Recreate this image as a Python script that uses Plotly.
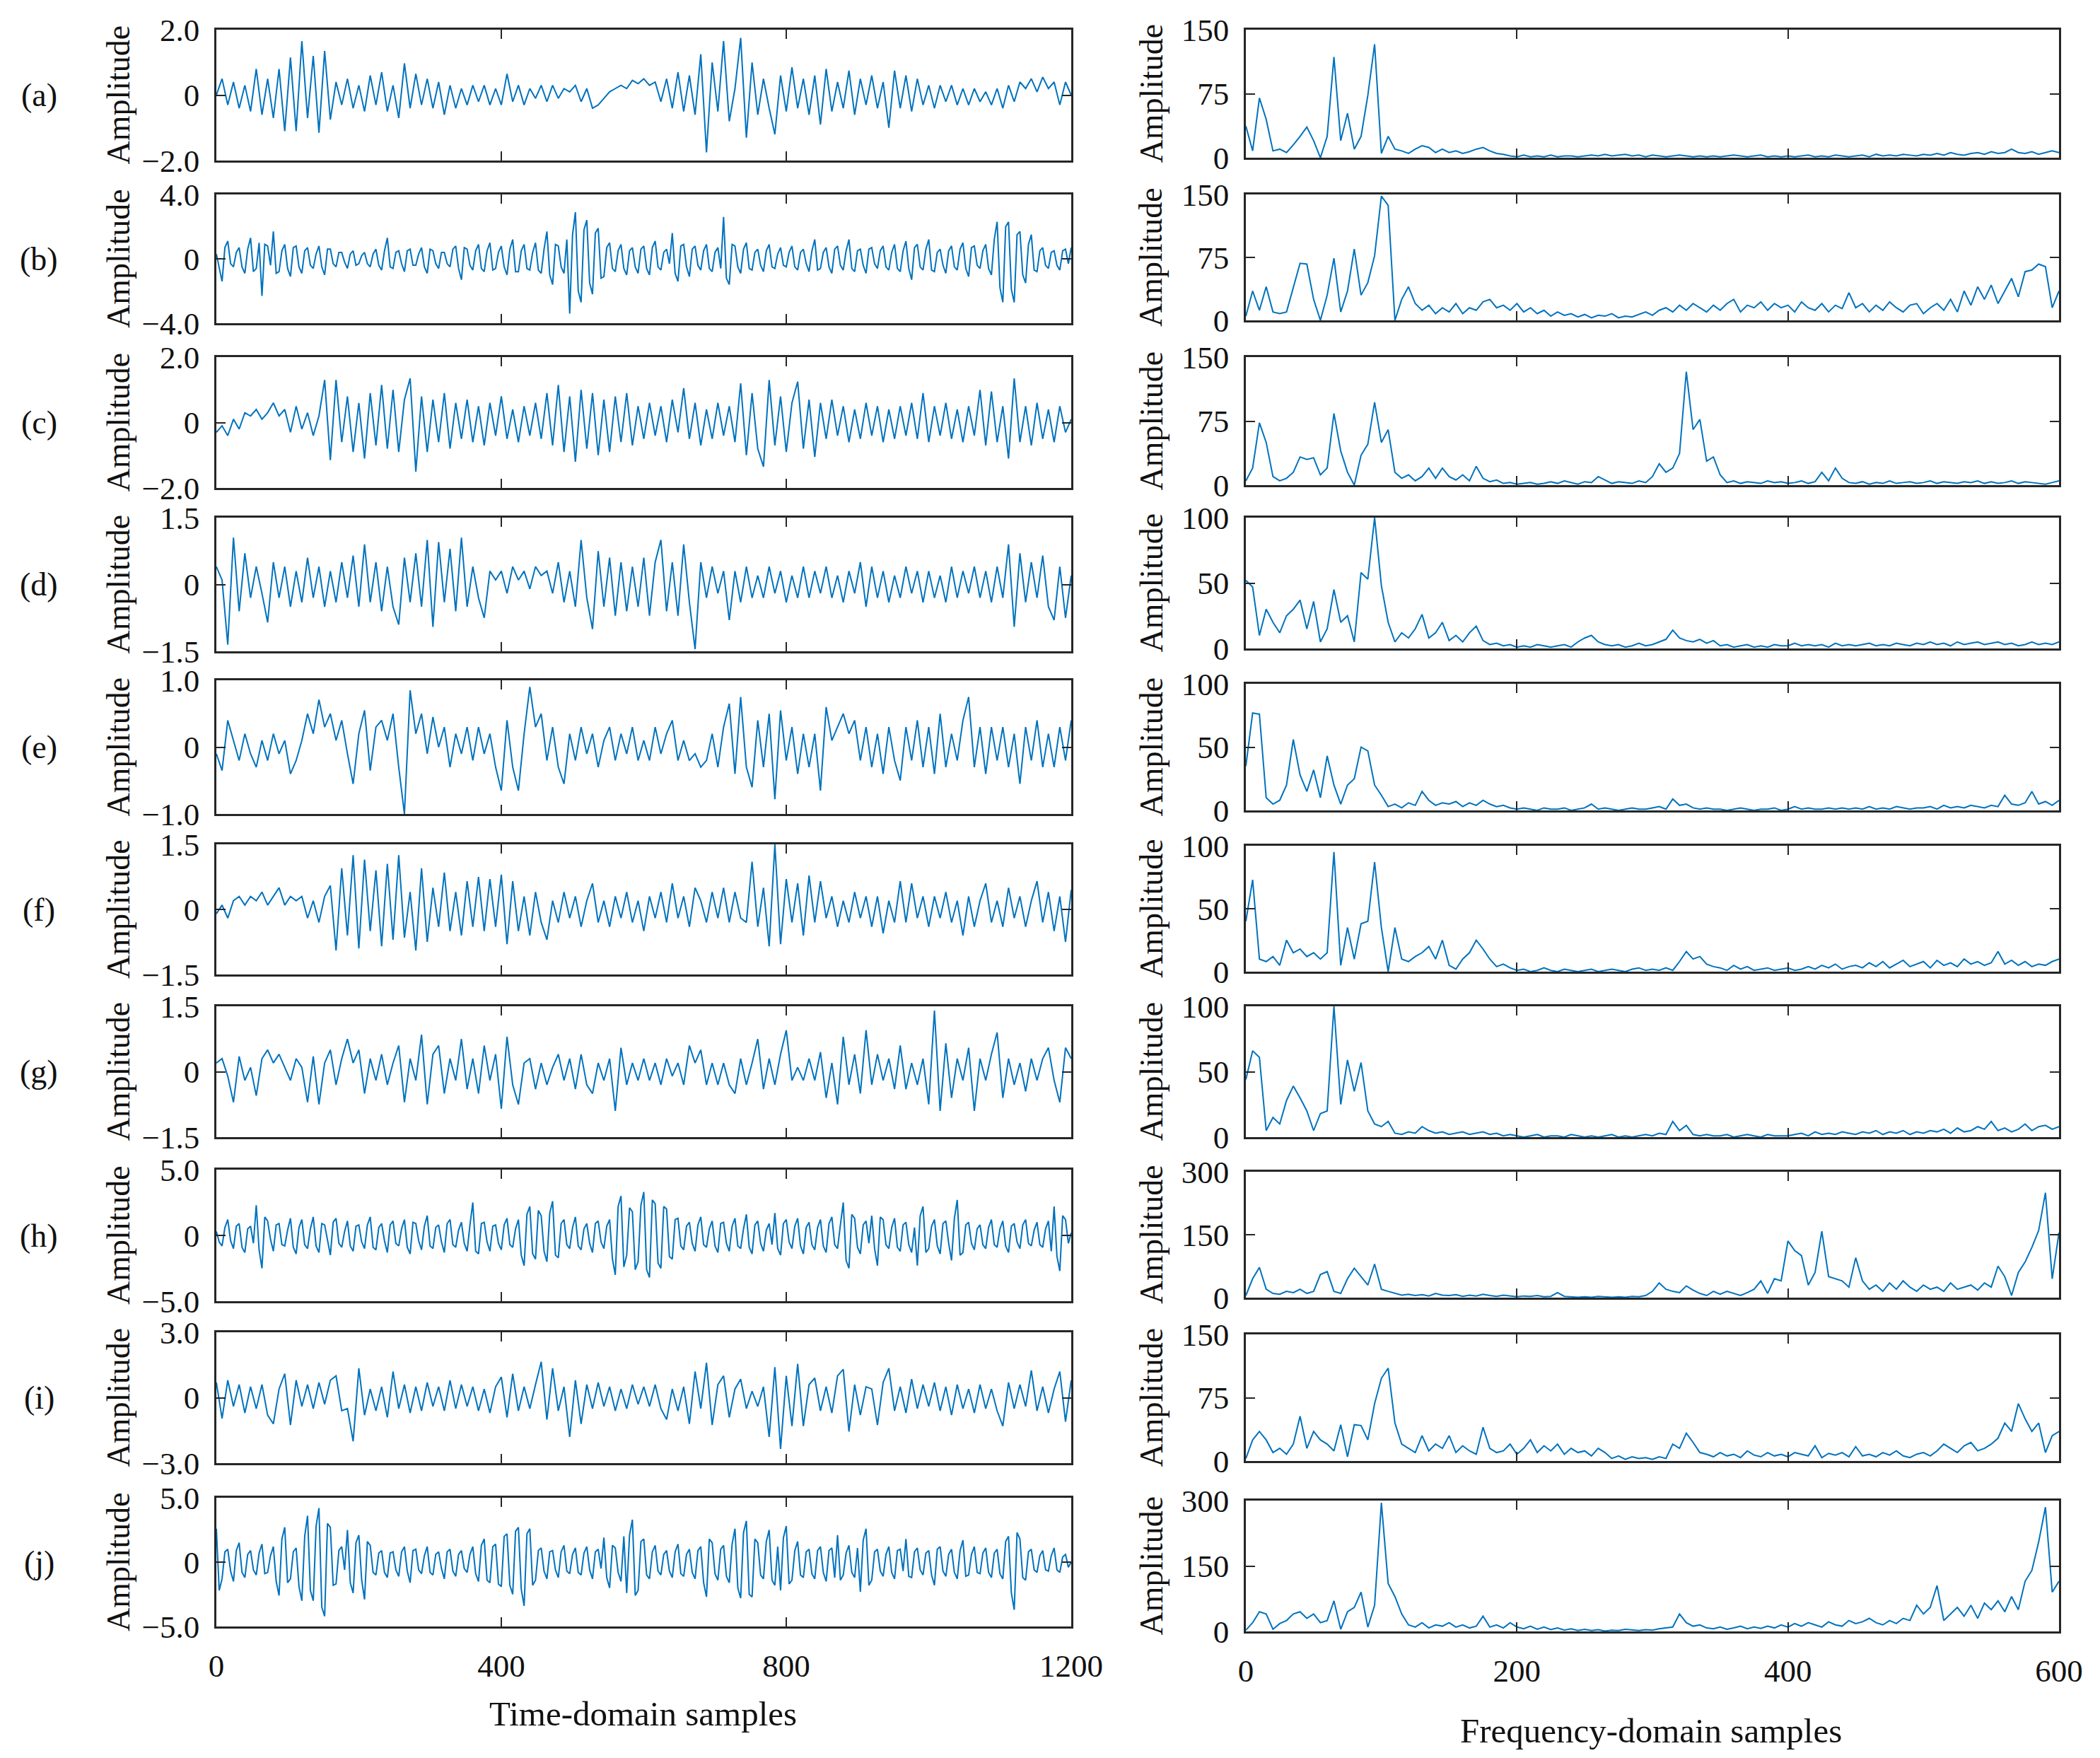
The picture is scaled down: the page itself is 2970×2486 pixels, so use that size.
import numpy as np
import plotly.graph_objects as go

# ---------------- data ----------------
ROW_LABELS = ["(a)", "(b)", "(c)", "(d)", "(e)", "(f)", "(g)", "(h)", "(i)", "(j)"]
TIME_STEPS = [8, 4, 8, 8, 8, 8, 8, 4, 8, 4]   # sample spacing of each time-domain array
FREQ_STEP = 5                                  # sample spacing of the frequency-domain arrays
TIME_LIMITS = [2.0, 4.0, 2.0, 1.5, 1.0, 1.5, 1.5, 5.0, 3.0, 5.0]
FREQ_LIMITS = [150, 150, 150, 100, 100, 100, 100, 300, 150, 300]
TIME_TICKS = [0, 400, 800, 1200]
FREQ_TICKS = [0, 200, 400, 600]
TIME_TITLE = "Time-domain samples"
FREQ_TITLE = "Frequency-domain samples"
Y_TITLE = "Amplitude"

A_T = [0, .5, -.3, .4, -.4, .3, -.5, .8, -.6, .5, -.7, .8, -1.1, 1.15, -1.1,
       1.65, -.7, 1.2, -1.15, 1.35, -.75, .4, -.3, .5, -.4, .3, -.5, .6, -.3, .7,
       -.5, .3, -.7, .97, -.4, .65, -.3, .5, -.4, .4, -.6, .3, -.4, .2, -.3,
       .3, -.2, .3, -.3, .2, -.3, .65, -.2, .3, -.3, .2, -.1, .3, -.2, .3,
       -.1, .2, .1, .3, -.2, .2, -.4, -.3, -.1, .1, .2, .3, .2, .45, .35,
       .5, .3, .4, -.2, .5, -.4, .7, -.5, .6, -.6, 1.25, -1.75, 1.0, -.5, 1.65,
       -.8, .2, 1.75, -1.3, 1.0, -.6, .5, -.4, -1.2, .6, -.5, .85, -.4, .5, -.6,
       .6, -.9, .8, -.5, .4, -.4, .75, -.6, .5, -.3, .6, -.4, .4, -1.0, .75,
       -.4, .6, -.5, .5, -.3, .3, -.4, .3, -.2, .3, -.3, .2, -.3, .2, -.2,
       .1, -.3, .2, -.4, .3, -.2, .4, .2, .5, .1, .55, .2, .4, -.3, .4,
       0]
B_T = [.3, -.6, -1.4, .7, 1.1, -.3, -.5, .4, .7, -.5, -.9, .6, 1.3, -.8, -.6, 1.0, -2.3, .9, .8, -.4, 1.7, -.9, -.8, .5, .9, -.6, -1.1, .7, .8, -.5,
       -.9, .5, .7, -.4, -.6, .3, .8, -.5, -1.0, .6, .6, -.3, -.5, .4, .4, -.2, -.6, .3, .5, -.4, -.3, .2, .4, -.3, -.5, .3, .6, -.4, -.7, .5,
       1.3, -.5, -.6, .4, .5, -.3, -.8, .5, .6, -.4, -.4, .3, .7, -.5, -.9, .6, .5, -.3, -.6, .4, .4, -.3, -.5, .6, .8, -.6, -1.3, .7, .6, -.4,
       -.7, .5, .9, -.6, -.8, .5, 1.0, -.7, -.6, .4, .8, -.5, -1.0, .6, 1.2, -.8, -.8, .5, .9, -.6, -.7, .4, 1.0, -.7, -.9, .6, 1.7, -1.0, -1.6, .9,
       .8, -.5, -.9, 1.2, -3.4, 1.5, 2.9, -2.0, -2.7, 1.8, 2.4, -1.5, -2.2, 1.6, 1.9, -1.2, -1.1, .7, 1.0, -.6, -.8, .5, .9, -.6, -1.0, .5, .7, -.5, -.9, .6,
       .8, -.6, -1.0, .7, 1.1, -.5, -.7, .4, .6, -.3, 1.6, -.9, -1.4, .8, .9, -.5, -1.1, .6, .8, -.4, -.7, .5, .9, -.6, -.8, .4, .7, -.6, 2.6, -1.2,
       -1.6, .9, .8, -.5, -.9, .6, 1.0, -.6, -.7, .4, .6, -.4, -.8, .5, .9, -.5, -.6, .3, .7, -.4, -.5, .4, .8, -.5, -.7, .4, .6, -.3, -.8, .5,
       1.2, -.7, -.6, .4, .7, -.5, -.9, .6, .8, -.4, -.7, .5, 1.2, -.6, -.8, .5, .6, -.4, -.9, .6, .7, -.3, -.6, .5, .8, -.5, -.7, .4, .9, -.6,
       -.8, .5, 1.1, -.6, -1.3, .7, .9, -.5, -.7, .6, 1.2, -.7, -.8, .4, .6, -.4, -.9, .5, .8, -.5, -.7, .6, 1.0, -.6, -1.1, .7, .8, -.4, -.6, .5,
       .9, -.6, -1.0, 1.2, 2.3, -1.8, -2.7, 2.0, 2.3, -1.9, -2.7, 1.5, 1.7, -1.0, -1.5, .9, 1.5, -.7, -.8, .5, .7, -.4, -.6, .4, .5, -.4, -.7, .5, .6, -.3,
       .7]
C_T = [-.3, -.1, -.4, .1, -.2, .3, .2, .4, .1, .3, .6, .2, .4, -.3, .5,
       -.2, .3, -.4, .2, 1.3, -1.15, 1.3, -.6, .8, -.9, .6, -1.1, .9, -.7, 1.15,
       -.8, 1.0, -.9, .7, 1.35, -1.5, .8, -.9, .7, -.6, .9, -.8, .6, -.5, .7,
       -.6, .5, -.7, .6, -.4, .8, -.5, .4, -.6, .5, -.4, .6, -.5, .9, -.7,
       1.15, -.9, .8, -1.2, 1.0, -.8, .9, -1.0, .7, -.9, .8, -.6, .9, -.7, .5,
       -.5, .6, -.4, .5, -.6, .7, -.3, 1.05, -.5, .6, -.7, .4, -.5, .6, -.4,
       .5, -.6, 1.2, -1.0, .9, -.8, -1.35, 1.3, -.7, .8, -.9, .6, 1.25, -.8, .7,
       -1.05, .6, -.5, .7, -.4, .5, -.6, .4, -.5, .6, -.4, .5, -.6, .4, -.5,
       .5, -.4, .6, -.5, .9, -.6, .5, -.4, .6, -.5, .4, -.6, .5, -.4, 1.0,
       -.7, .95, -.6, .5, -1.1, 1.35, -.6, .5, -.7, .6, -.5, .4, -.6, .5, -.3,
       .1]
D_T = [.4, .1, -1.35, 1.05, -.6, .7, -.3, .4, -.2, -.85, .5, -.3, .4, -.5, .3,
       -.4, .6, -.3, .4, -.5, .3, -.4, .5, -.3, .65, -.5, .9, -.4, .5, -.6,
       .4, -.5, -.9, .6, -.4, .7, -.5, 1.0, -.95, .95, -.4, .8, -.6, 1.05, -.5,
       .4, -.3, -.75, .3, .1, .3, -.2, .4, .1, .3, -.1, .4, .2, .3, -.2,
       .5, -.4, .3, -.5, 1.0, -.3, -1.0, .75, -.5, .6, -.7, .5, -.6, .4, -.5,
       .6, -.7, .5, 1.0, -.6, .5, -.7, .9, -.4, -1.45, .5, -.3, .4, -.2, .3,
       -.8, .3, -.4, .4, -.3, .2, -.3, .4, -.2, .3, -.4, .2, -.3, .4, -.3,
       .3, -.2, .4, -.3, .2, -.4, .3, -.2, .5, -.5, .4, -.3, .3, -.4, .2,
       -.3, .4, -.2, .3, -.4, .3, -.3, .2, -.4, .4, -.3, .3, -.2, .4, -.3,
       .3, -.4, .4, -.3, .9, -.95, .7, -.4, .5, -.3, .65, -.5, -.8, .4, -.75,
       .2]
E_T = [-.1, -.35, .4, .1, -.2, .2, -.1, -.3, .1, -.2, .2, -.1, .1, -.4, -.2,
       .1, .5, .2, .71, .3, .5, .1, .4, -.1, -.55, .2, .55, -.35, .3, .4,
       .1, .5, -.3, -1.0, .85, .2, .5, -.1, .45, 0, .3, -.3, .2, -.1, .3,
       -.2, .3, -.1, .2, -.3, -.65, .4, -.3, -.65, .2, .9, .3, .5, -.2, .3,
       -.3, -.55, .2, -.2, .3, -.1, .2, -.3, .1, .3, -.2, .2, -.1, .3, -.2,
       .1, -.2, .3, -.1, .2, .4, -.2, .1, -.2, -.1, -.3, -.2, .2, -.3, .3,
       .65, -.4, .75, -.3, -.6, .4, -.3, .5, -.78, .55, -.2, .3, -.4, .2, -.3,
       .2, -.65, .6, .1, .3, .5, .2, .4, -.2, .3, -.3, .2, -.4, .3, -.2,
       -.5, .3, -.2, .4, -.3, .3, -.4, .5, -.3, .2, -.2, .4, .75, -.3, .3,
       -.4, .3, -.2, .3, -.3, .2, -.55, .3, -.2, .4, -.3, .2, -.3, .3, -.2,
       .4]
F_T = [-.1, .1, -.2, .2, .3, .1, .3, .2, .4, .1, .3, .5, .1, .3, .2,
       .3, -.2, .2, -.3, .3, .55, -.95, .95, -.6, 1.25, -.9, 1.15, -.5, .9, -.85,
       1.05, -.7, 1.25, -.65, .4, -.95, .95, -.75, .5, -.4, .85, -.5, .4, -.6, .65,
       -.4, .75, -.5, .7, -.4, .8, -.8, .65, -.5, .3, -.6, .4, -.3, -.7, .2,
       -.3, .4, -.2, .3, -.4, .2, .6, -.3, .2, -.4, .3, -.2, .4, -.3, .2,
       -.5, .3, -.2, .4, -.3, .6, -.2, .3, -.4, .5, .2, -.3, .4, -.2, .5,
       -.3, .4, -.2, -.3, 1.1, -.4, .5, -.85, 1.5, -.8, .7, -.3, .6, -.6, .78,
       -.3, .65, -.2, .3, -.4, .2, -.3, .4, -.2, .3, -.4, .3, -.55, .2, -.3,
       .65, -.3, .6, -.2, .3, -.4, .3, -.2, .4, -.3, .2, -.6, .3, -.4, .2,
       .6, -.3, .2, -.4, .5, -.2, .3, -.4, .2, .65, -.3, .4, -.5, .3, -.75,
       .45]
G_T = [.2, .3, -.1, -.7, .35, -.2, .1, -.55, .3, .5, .2, .4, .1, -.2, .3,
       .1, -.7, .35, -.75, .2, .5, -.3, .3, .75, .2, .5, -.5, .3, -.2, .4,
       -.3, .2, .6, -.7, .3, -.2, .85, -.75, .4, .6, -.5, .3, -.2, .75, -.4,
       .3, -.5, .6, -.2, .4, -.85, .8, -.3, -.75, .2, .3, -.4, .2, -.3, .1,
       .4, -.2, .3, -.4, .4, -.3, -.5, .2, -.2, .3, -.9, .55, -.3, .2, -.2,
       .3, -.2, .2, -.3, .3, -.1, .2, -.3, .6, .2, .5, -.3, .2, -.3, .2,
       -.3, -.5, .3, -.3, .2, .75, -.4, .3, -.3, .4, .95, -.2, .1, -.2, .3,
       -.2, .45, -.6, .2, -.75, .8, -.3, .4, -.5, .95, -.3, .4, -.2, .3, -.4,
       .6, -.4, .2, -.3, .3, -.75, 1.4, -.9, .65, -.6, .3, -.2, .55, -.9, .3,
       -.2, .4, .9, -.6, .3, -.3, .2, -.45, .3, -.2, .3, .55, -.2, -.7, .55,
       .3]
H_T = [.3, -.5, -.8, .6, 1.2, -.4, -1.0, .7, .9, -.9, -1.3, .5, .7, -.6, 2.3, -1.1, -2.5, 1.4, 1.1, -.3, -1.2, .8, .9, -.7, -.8, .4, 1.3, -.9, -1.4, .6,
       1.2, -.7, -1.0, .5, 1.4, -.8, -1.3, .9, .8, -.4, -1.5, 1.0, 1.3, -.6, -.9, .3, 1.1, -.8, -1.2, .7, .8, -.5, -1.0, .8, 1.4, -.9, -1.1, .6, .9, -.4,
       -1.3, .8, 1.1, -.6, -.8, .5, 1.2, -.9, -1.4, 1.0, .9, -.4, -1.1, .7, 1.5, -.8, -1.0, .6, .8, -.5, -1.3, .9, 1.2, -.7, -.9, .4, 1.0, -.6, -1.2, .8,
       2.5, -1.2, -1.4, .9, 1.0, -.5, -1.2, .7, .8, -.6, -1.1, .8, 1.3, -.7, -.9, .5, 1.2, -1.5, -2.3, 1.6, 2.2, -1.4, -1.8, 1.9, 1.5, -1.2, -2.0, 1.7, 2.6, -1.5,
       -1.7, .9, 1.2, -.7, -1.0, .6, 1.4, -.8, -1.1, .5, .9, -.6, -1.3, .9, 1.1, -.5, -1.0, .7, 1.2, -1.8, -3.0, 2.2, 3.0, -2.4, -1.5, 2.1, 1.8, -2.6, -2.0, 2.3,
       3.3, -2.6, -3.2, 2.7, 2.4, -2.1, -2.5, 2.2, 2.0, -1.6, -1.8, 1.2, 1.3, -.8, -1.1, .7, 1.0, -.6, -1.2, .8, 1.4, -.7, -.9, .5, 1.1, -.8, -1.3, .9, 1.0, -.6,
       -1.2, .7, 1.3, -.8, -1.0, .5, 1.6, -.9, -1.4, .8, 1.1, -.6, -1.2, .4, .9, -.7, 1.7, -1.0, -1.5, .9, 1.2, -.5, -1.0, .7, 1.3, -.8, -1.4, .6, 1.0, -.7,
       -1.1, .6, 1.2, -.8, -1.3, .9, 1.4, -.7, -1.0, .8, 2.5, -1.9, -2.5, 1.6, 1.3, -.9, -1.4, .8, 1.1, -.6, 1.5, -1.0, -2.3, 1.4, 1.2, -.7, -1.0, .6, 1.3, -.9,
       -1.2, .8, 1.0, -.7, -1.3, .6, -2.3, 1.5, 2.2, -1.3, -1.0, .7, 1.2, -.8, -1.4, .9, 1.1, -.6, -1.9, 1.3, 2.7, -1.5, -1.3, .8, 1.0, -.6, -1.1, .5, .8, -.7,
       -1.0, .6, 1.2, -.7, -.9, .5, 1.1, -.8, -1.3, .7, .9, -.5, -1.0, .8, 1.2, -.6, -.8, .4, 1.0, -.7, -.9, .5, 1.1, -1.2, 2.2, -1.6, -2.7, 1.5, 1.2, -.6,
       .2]
I_T = [.7, -.95, .8, -.4, .6, -.7, .5, -.5, .6, -.8, -1.2, .4, 1.1, -1.25, .8,
       -.4, .6, -.5, .7, -.3, .8, 1.0, -.6, -.5, -2.0, 1.35, -.8, .4, -.6, .5,
       -.9, 1.2, -.5, .6, -.7, .5, -.6, .7, -.4, .5, -.6, .8, -.5, .6, -.4,
       .5, -.6, .4, -.7, .5, .95, -.9, 1.1, -.6, .5, -.5, .6, 1.65, -1.0, 1.35,
       -.6, .5, -1.8, .8, -1.2, .6, -.5, .7, -.4, .5, -.6, .4, -.5, .6, -.3,
       .5, -.4, .6, -.5, -1.0, .4, -.6, .5, -1.2, 1.2, -.5, 1.6, -1.25, .6, 1.0,
       -.9, .4, .85, -.5, .3, -.4, .5, -1.8, 1.4, -2.35, 1.0, -1.3, 1.55, -1.3, .6,
       .9, -.6, .5, -.7, 1.0, 1.3, -1.55, .6, -.8, .5, .4, -1.25, .7, 1.35, -.6,
       .5, -.7, .85, -.5, .6, -.4, .7, -.6, .5, -.8, .6, -.5, .4, -.7, .6,
       -.5, .4, -.6, -1.3, .7, -.5, .6, -.4, 1.25, -.6, .5, -.7, .4, 1.2, -1.1,
       .8]
J_T = [2.6, -2.2, -1.3, .8, 1.0, -.7, -1.5, .9, 1.5, -.8, -1.2, .6, .9, -.6, -1.0, .7, 1.4, -.9, -.8, .5, 1.2, -1.5, -2.6, 1.8, 2.7, -1.6, -1.3, .8, 1.1, -1.9,
       -3.0, 2.0, 3.6, -2.2, -3.0, 2.8, 4.2, -3.5, -4.2, 3.0, 2.7, -1.8, -1.7, .9, 1.2, -.6, 2.5, -1.6, -2.4, 1.5, 2.1, -1.4, -2.9, 1.6, 1.3, -.8, -1.0, .7, .9, -.8,
       -1.2, .7, .8, -.6, -1.1, .8, 1.2, -.7, -1.6, .9, 1.0, -.6, -.9, .5, 1.2, -.8, -1.0, .6, .8, -.5, -1.3, .8, 1.0, -.7, -1.1, .6, .9, -.5, -.8, .6,
       1.2, -.9, -1.5, 1.3, 1.8, -1.4, -1.6, 1.2, 1.4, -1.7, -1.9, 2.0, 2.2, -1.8, -2.5, 2.4, 2.7, -2.1, -3.4, 2.2, 2.6, -1.8, -1.4, .9, 1.1, -.7, -1.3, .8, .9, -.6,
       -1.2, .8, 1.3, -.7, -.9, .6, 1.1, -.8, -1.0, .7, 1.2, -.6, -1.3, .8, 1.0, -.5, 1.9, -1.2, -2.0, 1.3, 1.1, -.8, -1.5, 2.0, -2.4, 2.1, 3.3, -2.6, -2.2, 1.6,
       1.8, -1.0, -1.3, .8, 1.3, -.7, -1.0, .6, .9, -.7, -1.2, .8, 1.4, -.9, -1.1, .6, 1.0, -.8, -1.3, .9, 1.2, -1.6, -2.7, 1.8, 1.5, -.9, -1.4, 1.0, 1.3, -1.1,
       -1.6, 1.4, 2.6, -2.0, -2.8, 2.3, 3.2, -2.5, -2.7, 1.8, 1.5, -1.0, -1.3, 1.6, 2.5, -1.4, -1.8, 1.2, -2.2, 1.9, 2.8, -1.7, -1.4, .9, 1.6, -1.0, -1.2, .8, 1.0, -.9,
       -1.3, .9, 1.2, -.8, -1.5, .9, 1.1, -1.2, 2.1, -1.4, -1.0, .7, 1.3, -.8, -1.2, 1.1, -2.3, 1.7, 2.6, -1.8, -1.4, .8, 1.0, -.7, -1.1, .6, 1.2, -.8, -1.3, .9,
       1.0, -.7, 1.8, -1.1, -1.2, .8, 1.1, -.6, -1.0, .7, .9, -1.0, -1.8, 1.0, 1.2, -.7, -1.1, .6, 1.0, -.8, -1.3, .9, 1.7, -1.1, -1.0, .6, 1.2, -.8, -.9, .7,
       1.1, -.8, -1.2, .7, 1.0, -.9, -1.3, 1.6, 2.0, -2.4, -3.7, 2.3, 1.8, -1.2, -1.4, .8, 1.0, -.6, -.8, .5, .9, -.6, -.7, .5, 1.1, -.6, -.8, .4, .6, -.4,
       0]

A_F = [37, 8, 70, 45, 8, 10, 6, 15, 25, 36,
       20, 0, 25, 118, 20, 52, 10, 25, 73, 133,
       5, 25, 10, 8, 5, 10, 14, 12, 6, 10,
       6, 8, 5, 7, 10, 12, 8, 5, 4, 2,
       1, 3, 1, 2, 1, 3, 1, 2, 2, 1,
       2, 3, 2, 4, 2, 3, 4, 2, 3, 1,
       3, 2, 1, 2, 3, 2, 1, 2, 1, 2,
       1, 2, 3, 2, 1, 2, 3, 1, 2, 1,
       2, 1, 2, 3, 1, 2, 1, 3, 2, 1,
       2, 3, 1, 4, 2, 3, 2, 4, 3, 2,
       4, 3, 5, 3, 6, 4, 3, 5, 6, 4,
       7, 5, 6, 10, 6, 5, 7, 4, 6, 8,
       6]
B_F = [5, 35, 12, 40, 10, 8, 10, 40, 68, 67,
       25, 0, 30, 74, 10, 35, 85, 30, 45, 77,
       148, 137, 0, 25, 40, 20, 12, 18, 8, 15,
       10, 20, 8, 15, 12, 22, 25, 15, 18, 12,
       20, 10, 15, 8, 12, 5, 10, 6, 8, 4,
       7, 3, 6, 5, 8, 3, 5, 4, 7, 10,
       6, 12, 15, 10, 18, 12, 20, 15, 10, 18,
       12, 20, 25, 10, 18, 15, 22, 12, 20, 15,
       18, 10, 22, 15, 12, 20, 10, 18, 14, 33,
       15, 20, 10, 18, 12, 22, 15, 10, 18, 20,
       8, 15, 20, 12, 25, 10, 35, 18, 40, 25,
       42, 20, 35, 50, 28, 58, 60, 67, 64, 15,
       35]
C_F = [5, 20, 73, 50, 10, 5, 8, 15, 33, 30,
       32, 12, 20, 84, 40, 15, 0, 35, 48, 97,
       50, 65, 15, 8, 12, 5, 10, 20, 8, 20,
       10, 6, 12, 5, 22, 8, 4, 6, 2, 3,
       1, 2, 3, 1, 2, 4, 2, 5, 3, 1,
       4, 3, 10, 6, 2, 4, 3, 2, 5, 3,
       10, 25, 15, 20, 37, 133, 65, 77, 28, 33,
       12, 3, 5, 2, 4, 3, 2, 5, 3, 4,
       2, 3, 5, 2, 4, 15, 5, 20, 8, 3,
       2, 4, 1, 3, 2, 5, 2, 3, 4, 2,
       3, 5, 2, 4, 3, 2, 4, 3, 5, 2,
       4, 2, 3, 5, 2, 4, 3, 2, 1, 3,
       5]
D_F = [52, 47, 10, 30, 20, 12, 25, 30, 37, 15,
       36, 5, 15, 45, 20, 25, 5, 58, 53, 100,
       48, 20, 5, 12, 8, 15, 26, 8, 12, 20,
       6, 10, 5, 12, 17, 6, 3, 4, 2, 3,
       1, 2, 1, 3, 2, 1, 2, 3, 1, 5,
       8, 10, 5, 3, 2, 3, 1, 2, 4, 2,
       3, 5, 7, 14, 8, 6, 5, 7, 4, 6,
       2, 3, 1, 2, 3, 1, 2, 1, 3, 2,
       2, 4, 2, 3, 2, 3, 1, 4, 2, 3,
       2, 3, 4, 2, 3, 2, 4, 3, 2, 4,
       3, 5, 3, 4, 2, 5, 3, 4, 5, 3,
       4, 5, 3, 4, 2, 3, 5, 3, 4, 3,
       5]
E_F = [35, 77, 76, 10, 5, 8, 20, 56, 28, 15,
       32, 10, 43, 20, 5, 20, 25, 50, 47, 20,
       12, 3, 5, 2, 6, 4, 15, 8, 4, 6,
       5, 7, 3, 6, 4, 8, 5, 3, 4, 2,
       1, 2, 1, 0, 2, 1, 1, 2, 0, 1,
       2, 5, 1, 2, 1, 0, 1, 2, 1, 1,
       2, 3, 1, 9, 4, 5, 2, 1, 2, 1,
       1, 0, 1, 2, 1, 0, 1, 1, 2, 0,
       1, 3, 1, 2, 1, 1, 2, 1, 2, 1,
       2, 1, 3, 1, 2, 1, 3, 2, 1, 2,
       2, 3, 1, 4, 2, 3, 2, 4, 3, 2,
       4, 3, 12, 5, 4, 6, 15, 5, 7, 4,
       8]
F_F = [40, 73, 10, 8, 12, 5, 25, 15, 18, 12,
       15, 10, 15, 95, 5, 35, 10, 38, 40, 87,
       35, 0, 35, 10, 8, 12, 15, 20, 10, 25,
       5, 2, 10, 15, 25, 18, 10, 4, 6, 3,
       1, 2, 0, 1, 3, 1, 0, 2, 1, 0,
       1, 2, 0, 1, 2, 1, 0, 2, 3, 1,
       2, 1, 3, 1, 8, 16, 10, 12, 6, 4,
       3, 1, 5, 2, 4, 1, 2, 3, 1, 2,
       3, 1, 2, 4, 2, 5, 3, 6, 2, 4,
       5, 3, 7, 4, 8, 3, 6, 9, 4, 6,
       8, 3, 9, 5, 7, 4, 10, 6, 8, 5,
       7, 16, 6, 9, 5, 8, 4, 6, 5, 8,
       10]
G_F = [44, 66, 61, 5, 15, 10, 28, 39, 30, 20,
       5, 18, 20, 100, 25, 59, 35, 57, 20, 10,
       8, 12, 3, 2, 4, 3, 8, 5, 3, 4,
       2, 3, 4, 2, 3, 4, 2, 3, 1, 2,
       1, 0, 1, 2, 0, 1, 1, 0, 2, 1,
       0, 1, 0, 1, 2, 0, 1, 0, 1, 2,
       1, 3, 2, 12, 5, 9, 2, 1, 2, 1,
       1, 2, 0, 1, 2, 1, 0, 2, 1, 1,
       1, 2, 3, 1, 4, 2, 3, 2, 4, 3,
       2, 4, 3, 5, 2, 4, 3, 5, 2, 4,
       3, 5, 4, 6, 3, 7, 4, 5, 8, 6,
       12, 5, 7, 4, 6, 10, 5, 8, 9, 6,
       8]
H_F = [5, 45, 72, 20, 10, 8, 15, 12, 20, 10,
       15, 55, 62, 15, 10, 45, 70, 50, 30, 80,
       20, 15, 10, 6, 8, 5, 7, 4, 10, 6,
       5, 7, 3, 6, 4, 8, 5, 3, 6, 4,
       2, 4, 3, 5, 2, 3, 12, 3, 2, 1,
       2, 1, 3, 2, 1, 2, 1, 3, 2, 5,
       15, 35, 20, 15, 12, 28, 18, 10, 5, 15,
       8, 15, 10, 5, 12, 20, 40, 10, 45, 40,
       135, 112, 100, 30, 60, 158, 50, 45, 40, 25,
       95, 40, 20, 30, 15, 35, 20, 40, 25, 15,
       30, 20, 25, 15, 35, 20, 25, 30, 18, 35,
       25, 75, 50, 5, 60, 85, 120, 160, 250, 45,
       155]
I_F = [3, 25, 35, 25, 10, 15, 8, 20, 53, 15,
       35, 25, 20, 12, 43, 5, 43, 42, 25, 68,
       98, 110, 45, 20, 15, 10, 30, 12, 20, 15,
       30, 10, 18, 12, 8, 40, 15, 10, 12, 20,
       8, 15, 25, 10, 18, 12, 20, 8, 15, 10,
       12, 6, 15, 10, 3, 6, 2, 5, 3, 4,
       2, 5, 3, 20, 15, 33, 22, 10, 8, 5,
       10, 6, 8, 4, 12, 7, 5, 10, 6, 8,
       5, 10, 8, 6, 18, 4, 9, 7, 10, 5,
       17, 6, 8, 5, 10, 7, 12, 6, 4, 8,
       10, 6, 12, 20, 15, 10, 18, 22, 12, 15,
       20, 27, 45, 35, 68, 50, 35, 45, 10, 30,
       35]
J_F = [3, 20, 45, 40, 5, 18, 25, 40, 45, 30,
       40, 20, 25, 70, 5, 45, 55, 90, 10, 60,
       295, 110, 80, 40, 15, 10, 20, 8, 15, 12,
       20, 10, 15, 8, 12, 35, 10, 15, 8, 20,
       10, 6, 12, 5, 10, 4, 8, 3, 6, 2,
       5, 2, 4, 1, 3, 2, 5, 3, 2, 4,
       3, 6, 8, 10, 40, 20, 12, 15, 8, 6,
       10, 5, 8, 12, 6, 10, 7, 12, 8, 15,
       10, 18, 12, 20, 15, 10, 22, 15, 12, 25,
       18, 22, 30, 20, 15, 25, 18, 30, 25, 60,
       40, 55, 105, 25, 40, 55, 35, 60, 30, 65,
       50, 70, 45, 80, 50, 115, 140, 205, 285, 90,
       115]

TIME_SERIES = [A_T, B_T, C_T, D_T, E_T, F_T, G_T, H_T, I_T, J_T]
FREQ_SERIES = [A_F, B_F, C_F, D_F, E_F, F_F, G_F, H_F, I_F, J_F]

# ---------------- layout (pixel geometry, in window pixels) ----------------
WIN_W, WIN_H = 2970, 2486
BODY = 8                        # default page margin around the figure
W, H = WIN_W - 2 * BODY, WIN_H - 2 * BODY
FONT = "Liberation Serif"
LINE_COLOR = "#0072BD"
FRAME = "#262626"
TXT = "#111111"
LEFT_X = (306, 1515)
RIGHT_X = (1762, 2912)
LEFT_TB = [(42, 227), (275, 457), (505, 690), (732, 921), (962, 1151),
           (1194, 1378), (1423, 1608), (1654, 1840), (1884, 2069), (2118, 2300)]
RIGHT_TB = [(42, 223), (275, 453), (505, 686), (732, 917), (967, 1146),
            (1196, 1374), (1423, 1608), (1657, 1835), (1887, 2066), (2122, 2307)]


def px_x(v):
    return (v - BODY) / W


def px_y(v):
    return 1 - (v - BODY) / H


def names(n):
    s = "" if n == 1 else str(n)
    return "xaxis" + s, "yaxis" + s, "x" + s, "y" + s


fig = go.Figure()
layout = dict(width=W, height=H, autosize=False,
              margin=dict(l=0, r=0, t=0, b=0, pad=0, autoexpand=False),
              paper_bgcolor="white", plot_bgcolor="white",
              showlegend=False, annotations=[])

tick_font = dict(family=FONT, size=45, color=TXT)


def fmt_time(v):
    return f"{v:.1f}"


for i in range(10):
    for col in range(2):
        n = 2 * i + 1 + col
        xa, ya, xr, yr = names(n)
        if col == 0:
            vals = TIME_SERIES[i]
            step = TIME_STEPS[i]
            xlim = TIME_TICKS[-1]
            xt = TIME_TICKS
            R = TIME_LIMITS[i]
            yvals = [-R, 0, R]
            ytext = ["\u2212" + fmt_time(R), "0", fmt_time(R)]
            xdom = LEFT_X
            top, bot = LEFT_TB[i]
            yrange = [-R, R]
        else:
            vals = FREQ_SERIES[i]
            step = FREQ_STEP
            xlim = FREQ_TICKS[-1]
            xt = FREQ_TICKS
            R = FREQ_LIMITS[i]
            yvals = [0, R / 2, R]
            ytext = ["0", f"{R // 2}", f"{R}"]
            xdom = RIGHT_X
            top, bot = RIGHT_TB[i]
            yrange = [0, R]
        x = np.arange(len(vals)) * step
        fig.add_trace(go.Scatter(x=x, y=vals, mode="lines", xaxis=xr, yaxis=yr,
                                 line=dict(color=LINE_COLOR, width=2),
                                 hoverinfo="skip"))
        layout[xa] = dict(domain=[px_x(xdom[0]), px_x(xdom[1])], anchor=yr,
                          range=[0, xlim], tickvals=xt, ticktext=[str(v) for v in xt],
                          ticks="inside", ticklen=13, tickwidth=2, tickcolor=FRAME,
                          mirror="ticks", showline=True, linewidth=3, linecolor=FRAME,
                          showgrid=False, zeroline=False, showticklabels=(i == 9),
                          automargin=False,
                          tickfont=tick_font, ticklabelstandoff=14)
        layout[ya] = dict(domain=[px_y(bot), px_y(top)], anchor=xr,
                          range=yrange, tickvals=yvals, ticktext=ytext,
                          ticks="inside", ticklen=13, tickwidth=2, tickcolor=FRAME,
                          mirror="ticks", showline=True, linewidth=2.5, linecolor=FRAME,
                          showgrid=False, zeroline=False, automargin=False,
                          tickfont=tick_font, ticklabelstandoff=12)
        # y-axis title
        layout["annotations"].append(dict(
            text=Y_TITLE, xref="paper", yref="paper",
            x=px_x(167 if col == 0 else 1628), y=px_y((top + bot) / 2),
            xanchor="center", yanchor="middle", textangle=-90, showarrow=False,
            font=dict(family=FONT, size=46, color=TXT)))
    # row label
    t, b = LEFT_TB[i]
    layout["annotations"].append(dict(
        text=ROW_LABELS[i], xref="paper", yref="paper",
        x=px_x(55), y=px_y((t + b) / 2), xanchor="center", yanchor="middle",
        showarrow=False, font=dict(family=FONT, size=46, color=TXT)))

layout["annotations"].append(dict(
    text=TIME_TITLE, xref="paper", yref="paper", x=px_x(909), y=px_y(2423),
    xanchor="center", yanchor="middle", showarrow=False,
    font=dict(family=FONT, size=49, color=TXT)))
layout["annotations"].append(dict(
    text=FREQ_TITLE, xref="paper", yref="paper", x=px_x(2335), y=px_y(2447),
    xanchor="center", yanchor="middle", showarrow=False,
    font=dict(family=FONT, size=49, color=TXT)))

fig.update_layout(**layout)
fig.write_html("out.html")
